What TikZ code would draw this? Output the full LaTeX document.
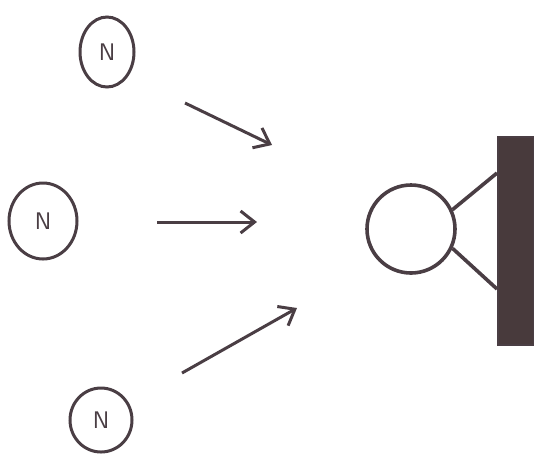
\documentclass[tikz,border=0pt]{standalone}
\usepackage{tikz}
\usetikzlibrary{shapes.geometric, arrows.meta, positioning, calc}
\definecolor{pencil}{RGB}{74,62,68}
\definecolor{blockcolor}{RGB}{72,58,60}

\begin{document}
\begin{tikzpicture}[
    x=0.5pt, y=-0.5pt,
    nucleus/.style={ellipse, draw=pencil, line width=1.5pt, inner sep=0pt, font=\sffamily\large, text=pencil},
    push/.style={-{Straight Barb[length=7pt, width=11pt, line width=1.5pt]}, draw=pencil, line width=1.5pt},
    stick/.style={draw=pencil, line width=1.8pt}
]
\useasboundingbox (0,0) rectangle (534,457);

% Incoming particles
\node[nucleus, minimum width=27pt, minimum height=35pt] (ntop) at (107,52) {N};
\node[nucleus, minimum width=34pt, minimum height=38pt] (nmid) at (43,221) {N};
\node[nucleus, minimum width=31pt, minimum height=32pt] (nbot) at (101,420) {N};

% Arrow ends
\coordinate (atop0) at (185,103);
\coordinate (atop1) at (272,145);
\coordinate (amid0) at (157,222);
\coordinate (amid1) at (257,222);
\coordinate (abot0) at (182,373);
\coordinate (abot1) at (297,308);

% Arrows
\draw[push] (atop0) -- (atop1);
\draw[push] (amid0) -- (amid1);
\draw[push] (abot0) -- (abot1);

% Target and wall
\node[circle, draw=pencil, line width=1.8pt, minimum size=44pt, inner sep=0pt] (target) at (411,229) {};
\node[rectangle, draw=pencil, fill=blockcolor, line width=1pt, minimum width=18pt, minimum height=104pt, inner sep=0pt, anchor=north west] (wall) at (497,136) {};

\draw[stick] (target.25) -- (wall.west |- 0,173);
\draw[stick] (target.-25) -- (wall.west |- 0,289);

\end{tikzpicture}
\end{document}
